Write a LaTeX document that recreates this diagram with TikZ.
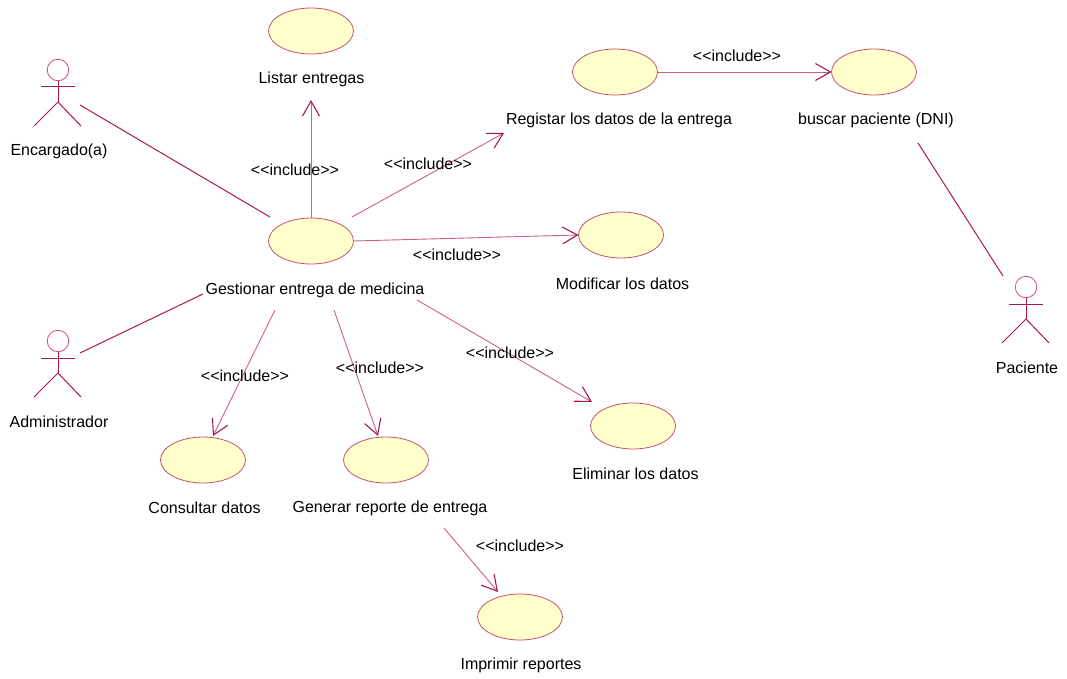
\documentclass[tikz,border=0pt]{standalone}
\usepackage{fontspec}
\setmainfont{Liberation Sans}
\usetikzlibrary{arrows.meta,shapes.geometric}
\definecolor{umlline}{HTML}{A81850}
\definecolor{umlpale}{HTML}{C8506F}
\definecolor{umlthin}{HTML}{CC6082}
\definecolor{umlfill}{HTML}{FFFFCB}
\tikzset{
  usecase/.style={ellipse,draw=umlpale,fill=umlfill,line width=0.8pt,minimum width=85pt,minimum height=46pt,inner sep=0pt,outer sep=0pt},
  lbl/.style={font=\fontsize{16}{18}\selectfont,text=black,inner sep=0pt},
  assoc/.style={draw=umlline,line width=1pt},
  incl/.style={draw=umlthin,line width=0.9pt,-{Straight Barb[length=15pt,width=17pt,line width=1.1pt,umlline]}},
  limb/.style={draw=umlline,line width=1pt},
  head/.style={circle,draw=umlpale,line width=0.8pt,minimum size=21.5pt,inner sep=0pt,outer sep=0pt}
}
\newcommand{\umlactor}[3]{%
  \node[head] (#1head) at (#2,#3) {};
  \coordinate (#1hip) at (#2,#3+32);
  \coordinate (#1la) at (#2-17,#3+17);
  \coordinate (#1ra) at (#2+16.5,#3+17);
  \coordinate (#1ll) at (#2-24,#3+56);
  \coordinate (#1rl) at (#2+23,#3+56);
  \draw[limb] (#1head.south) -- (#1hip);
  \draw[limb] (#1la) -- (#1ra);
  \draw[limb] (#1ll) -- (#1hip) -- (#1rl);
}
\begin{document}
\begin{tikzpicture}[x=1pt,y=-1pt]
\useasboundingbox (0,0) rectangle (1067,679);
% actors
\umlactor{enc}{58}{70}
\umlactor{adm}{58}{341}
\umlactor{pac}{1026}{287}
\node[lbl] (lenc) at (59,151) {Encargado(a)};
\node[lbl] (ladm) at (59,422) {Administrador};
\node[lbl] (lpac) at (1027,368) {Paciente};
% use cases
\node[usecase] (listar) at (311,31) {};
\node[usecase] (gest) at (311,241) {};
\node[usecase] (reg) at (615,72) {};
\node[usecase] (busc) at (874,72) {};
\node[usecase] (modif) at (621,235) {};
\node[usecase] (elim) at (633,426) {};
\node[usecase] (cons) at (203,460) {};
\node[usecase] (gen) at (386,460) {};
\node[usecase] (impr) at (520,617) {};
\node[lbl] (llistar) at (311.5,79) {Listar entregas};
\node[lbl] (lgest) at (315,290) {Gestionar entrega de medicina};
\node[lbl] (lreg) at (619,120) {Registar los datos de la entrega};
\node[lbl] (lbusc) at (876,120) {buscar paciente (DNI)};
\node[lbl] (lmodif) at (622.5,283.5) {Modificar los datos};
\node[lbl] (lelim) at (635.5,473.5) {Eliminar los datos};
\node[lbl] (lcons) at (204.5,507.5) {Consultar datos};
\node[lbl] (lgen) at (390,508) {Generar reporte de entrega};
\node[lbl] (limpr) at (521,665) {Imprimir reportes};
% connector ends
\coordinate (encend) at (80,105);
\coordinate (gestnw) at (270,217);
\coordinate (admend) at (80,353);
\coordinate (lgestw) at (203,294);
\coordinate (buscs) at (918,143);
\coordinate (pacn) at (1003,276);
\coordinate (listars) at (311,100);
\coordinate (gestne) at (352,217);
\coordinate (lregsw) at (504,133);
\coordinate (gesta) at (275,310);
\coordinate (gestb) at (334,310);
\coordinate (gestc) at (417,300);
\coordinate (gena) at (444,528);
\coordinate (consn) at (213,436);
\coordinate (genn) at (378,436);
\coordinate (elimnw) at (592,402);
\coordinate (imprnw) at (498,592);
% associations
\draw[assoc] (encend) -- (gestnw);
\draw[assoc] (admend) -- (lgestw);
\draw[assoc] (buscs) -- (pacn);
% includes
\draw[incl] (gest.north) -- (listars);
\draw[incl] (gestne) -- (lregsw);
\draw[incl] (gest.east) -- (modif.west);
\draw[incl] (gesta) -- (consn);
\draw[incl] (gestb) -- (genn);
\draw[incl] (gestc) -- (elimnw);
\draw[incl] (gena) -- (imprnw);
\draw[incl] (reg.east) -- (busc.west);
% include labels
\node[lbl] (i1) at (295,170) {<{}<include>{}>};
\node[lbl] (i2) at (428,164) {<{}<include>{}>};
\node[lbl] (i3) at (457,255) {<{}<include>{}>};
\node[lbl] (i4) at (245,376) {<{}<include>{}>};
\node[lbl] (i5) at (380,368) {<{}<include>{}>};
\node[lbl] (i6) at (510,353) {<{}<include>{}>};
\node[lbl] (i7) at (520,546) {<{}<include>{}>};
\node[lbl] (i8) at (737,56) {<{}<include>{}>};
\end{tikzpicture}
\end{document}
